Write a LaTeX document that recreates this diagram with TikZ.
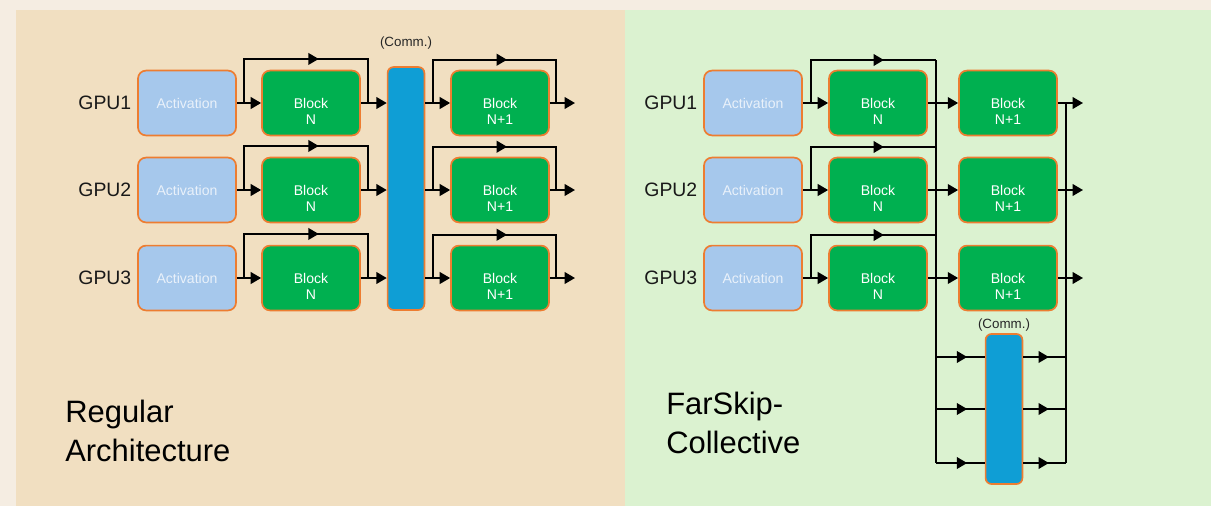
\documentclass[tikz,border=0pt]{standalone}
\usepackage{fontspec}
\setmainfont{Liberation Sans}
\usetikzlibrary{arrows.meta,positioning,decorations.markings}

\definecolor{outerbg}{HTML}{F5EDE2}
\definecolor{leftbg}{HTML}{F1DFC1}
\definecolor{rightbg}{HTML}{DBF2D0}
\definecolor{actblue}{HTML}{A6C8EC}
\definecolor{blkgreen}{HTML}{00B050}
\definecolor{commblue}{HTML}{0F9ED5}
\definecolor{edgeorange}{HTML}{ED7D31}

\begin{document}
\begin{tikzpicture}[x=0.025cm, y=-0.025cm,
        box/.style={draw=edgeorange, line width=1.2pt, rounded corners=0.2cm,
            minimum width=2.45cm, minimum height=1.62cm, inner sep=0pt,
            font=\fontsize{10}{12}\selectfont},
        actbox/.style={box, fill=actblue, text=actblue!25!white},
        blkbox/.style={box, fill=blkgreen,
            label={[white, align=center, font=\fontsize{10}{12}\selectfont, yshift=-0.21cm]center:#1}},
        commbar/.style={draw=edgeorange, line width=1.2pt, fill=commblue,
            rounded corners=0.15cm, minimum width=0.92cm, inner sep=0pt},
        gpulbl/.style={inner sep=0pt, font=\fontsize{13.8}{16}\selectfont, text=black!90},
        commlbl/.style={inner sep=0pt, font=\fontsize{9.5}{11}\selectfont, text=black!85},
        heading/.style={anchor=base west, align=left, inner sep=0pt,
            font=\fontsize{22}{27.7}\selectfont},
        wire/.style={line width=1.4pt},
        arr/.style={wire, -{Triangle[length=2.6mm, width=2.9mm]}},
        midarr/.style={wire, postaction={decorate}, decoration={markings,
            mark=at position #1 with {\arrow{Triangle[length=2.6mm, width=2.9mm]}}}},
        midarr/.default=0.56]
    \useasboundingbox (0,0) rectangle (1211,506);
    \fill[outerbg] (0,0) rectangle (1211,506);
    \fill[leftbg] (16,10) rectangle (625,506);
    \fill[rightbg] (625,10) rectangle (1211,506);

    % regular architecture
    \foreach \r/\y in {1/103,2/190,3/278} {
        \node[actbox] (act\r) at (187,\y) {Activation};
        \node[gpulbl, left=0.14cm of act\r] (gpu\r) {GPU\r};
        \node[blkbox={Block\\N}] (blk\r) at (311,\y) {};
        \node[blkbox={Block\\N+1}] (nxt\r) at (500,\y) {};
    }
    \node[commbar, minimum height=6.07cm] (comm) at (406,188.5) {};
    \node[commlbl, above=0.41cm of comm] (commtxt) {(Comm.)};

    \foreach \r/\y in {1/103,2/190,3/278} {
        \coordinate (sa\r) at (244,\y);
        \coordinate (sb\r) at (368,\y);
        \coordinate (sc\r) at (433,\y);
        \coordinate (sd\r) at (556,\y);
        \coordinate (out\r) at (575,\y);
        \draw[arr] (act\r) -- (blk\r);
        \draw[arr] (blk\r) -- (blk\r -| comm.west);
        \draw[arr] (comm.east |- nxt\r) -- (nxt\r);
        \draw[arr] (nxt\r) -- (out\r);
        \draw[midarr] (sa\r) |- ([yshift=0.27cm]blk\r.north) -| (sb\r);
        \draw[midarr] (sc\r) |- ([yshift=0.25cm]nxt\r.north) -| (sd\r);
    }
    % base anchor sits on the last line
    \node[heading] (regtitle) at (65,461) {Regular\\Architecture};

    % farskip-collective
    \foreach \r/\y in {1/103,2/190,3/278} {
        \node[actbox] (ract\r) at (753,\y) {Activation};
        \node[gpulbl, left=0.14cm of ract\r] (rgpu\r) {GPU\r};
        \node[blkbox={Block\\N}] (rblk\r) at (878,\y) {};
        \node[blkbox={Block\\N+1}] (rnxt\r) at (1008,\y) {};
        \coordinate (rsa\r) at (811,\y);
        \coordinate (rtop\r) at (936,\y-43);
        \coordinate (rout\r) at (1083,\y);
        \draw[arr] (ract\r) -- (rblk\r);
        \draw[arr] (rblk\r) -- (rnxt\r);
        \draw[arr] (rnxt\r) -- (rout\r);
        \draw[midarr=0.69] (rsa\r) |- (rtop\r);
    }
    \coordinate (busR) at (1066,103);
    \node[commbar, minimum height=3.75cm] (comm2) at (1004,409) {};
    \node[commlbl, above=0.04cm of comm2] (commtxt2) {(Comm.)};
    \foreach \k/\s in {1/1.3cm,2/0cm,3/-1.35cm} {
        \coordinate (cin\k) at ([yshift=\s]comm2.west);
        \coordinate (cout\k) at ([yshift=\s]comm2.east);
        \draw[midarr=0.64] (rtop1 |- cin\k) -- (cin\k);
        \draw[midarr=0.6] (cout\k) -- (busR |- cout\k);
    }
    \draw[wire] (rtop1) -- (rtop1 |- cin3);
    \draw[wire] (busR) -- (busR |- cout3);
    \node[heading] (fstitle) at (666,453) {FarSkip-\\Collective};
\end{tikzpicture}
\end{document}
